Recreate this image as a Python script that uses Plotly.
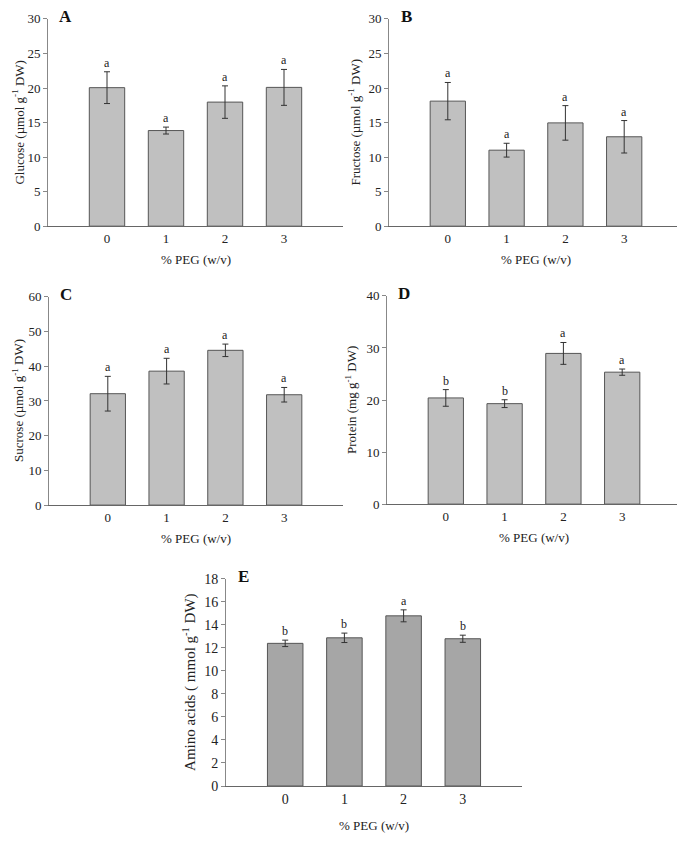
import plotly.graph_objects as go

# % PEG treatments
peg = ["0", "1", "2", "3"]

glucose = [20.05, 13.84, 17.96, 20.09]
glucose_err = [2.3, 0.5, 2.35, 2.6]
glucose_sig = ["a", "a", "a", "a"]

fructose = [18.1, 11.0, 14.95, 12.94]
fructose_err = [2.7, 1.0, 2.5, 2.35]
fructose_sig = ["a", "a", "a", "a"]

sucrose = [32.1, 38.6, 44.6, 31.8]
sucrose_err = [5.0, 3.7, 1.8, 2.1]
sucrose_sig = ["a", "a", "a", "a"]

protein = [20.4, 19.3, 28.95, 25.35]
protein_err = [1.6, 0.75, 2.1, 0.6]
protein_sig = ["b", "b", "a", "a"]

amino = [12.39, 12.87, 14.78, 12.79]
amino_err = [0.28, 0.41, 0.52, 0.31]
amino_sig = ["b", "b", "a", "b"]

W, H = 685, 841
OFF = 8  # default page margin around the plot div
FONT = "Times New Roman, Liberation Serif, serif"


def px(x):
    return (x - OFF) / W


def py(y):
    return 1 - (y - OFF) / H


# panel: letter, values, err, sig, y title, y max, dtick, x px domain, y px domain (top, bottom),
# colour, tick font, y-title font, y-title left edge
panels = [
    ("A", glucose, glucose_err, glucose_sig, "Glucose (µmol g<sup>-1</sup> DW)", 30, 5,
     (48, 343), (12, 223), "#c0c0c0", 13, 13, 8),
    ("B", fructose, fructose_err, fructose_sig, "Fructose (µmol g<sup>-1</sup> DW)", 30, 5,
     (389, 683), (12, 223), "#c0c0c0", 13, 13, 344),
    ("C", sucrose, sucrose_err, sucrose_sig, "Sucrose (µmol g<sup>-1</sup> DW)", 60, 10,
     (49, 343), (295, 507), "#c0c0c0", 13, 13, 8),
    ("D", protein, protein_err, protein_sig, "Protein (mg g<sup>-1</sup> DW)", 40, 10,
     (387, 681), (294, 506), "#c0c0c0", 13, 13, 341),
    ("E", amino, amino_err, amino_sig, "Amino acids ( mmol g<sup>-1</sup> DW)", 18, 2,
     (226, 522), (582, 793), "#a6a6a6", 14, 15, 178),
]

fig = go.Figure()
annotations = []
layout = {}

for i, (lab, vals, err, sig, ytitle, ymax, dtick, xd, yd, col, tfs, yfs, ytx) in enumerate(panels):
    n = "" if i == 0 else str(i + 1)
    fig.add_trace(go.Bar(
        x=peg, y=vals, width=0.6,
        marker=dict(color=col, line=dict(color="#555555", width=1)),
        error_y=dict(type="data", array=err, color="#333333", thickness=1, width=3),
        xaxis="x" + n, yaxis="y" + n, showlegend=False,
    ))
    layout["xaxis" + n] = dict(
        domain=[px(xd[0]), px(xd[1])], anchor="y" + n, range=[-1, 4],
        showline=True, linecolor="#666666", linewidth=1, ticks="", showgrid=False,
        zeroline=False, tickfont=dict(family=FONT, size=tfs, color="#222222"),
    )
    layout["yaxis" + n] = dict(
        domain=[py(yd[1]), py(yd[0])], anchor="x" + n, range=[0, ymax],
        dtick=dtick, showline=True, linecolor="#888888", linewidth=1,
        ticks="outside", ticklen=4, tickcolor="#888888", showgrid=False, zeroline=False,
        tickfont=dict(family=FONT, size=tfs, color="#222222"),
    )
    for x, v, e, s in zip(peg, vals, err, sig):
        annotations.append(dict(
            x=x, y=v + e, xref="x" + n, yref="y" + n, text=s, showarrow=False,
            yanchor="bottom", font=dict(family=FONT, size=12, color="#222222"),
        ))
    # panel letter
    annotations.append(dict(
        x=px(xd[0] + 17), y=py(yd[0] - 2), xref="paper", yref="paper",
        text="<b>" + lab + "</b>", showarrow=False, xanchor="center", yanchor="middle",
        font=dict(family=FONT, size=17, color="#111111"),
    ))
    # y title
    annotations.append(dict(
        x=px(ytx), y=py((yd[0] + yd[1]) / 2), xref="paper", yref="paper",
        text=ytitle, textangle=-90, showarrow=False, xanchor="left", yanchor="middle",
        font=dict(family=FONT, size=yfs, color="#222222"),
    ))
    # x title
    xt_y = yd[1] + (40 if lab == "E" else 34)
    annotations.append(dict(
        x=px((xd[0] + xd[1]) / 2), y=py(xt_y), xref="paper", yref="paper",
        text="% PEG (w/v)", showarrow=False, xanchor="center", yanchor="middle",
        font=dict(family=FONT, size=13, color="#222222"),
    ))

fig.update_layout(
    **layout,
    annotations=annotations,
    width=W, height=H, autosize=False,
    margin=dict(l=0, r=0, t=0, b=0),
    plot_bgcolor="white", paper_bgcolor="white",
    bargap=0.4,
)

fig.write_html("out.html")
